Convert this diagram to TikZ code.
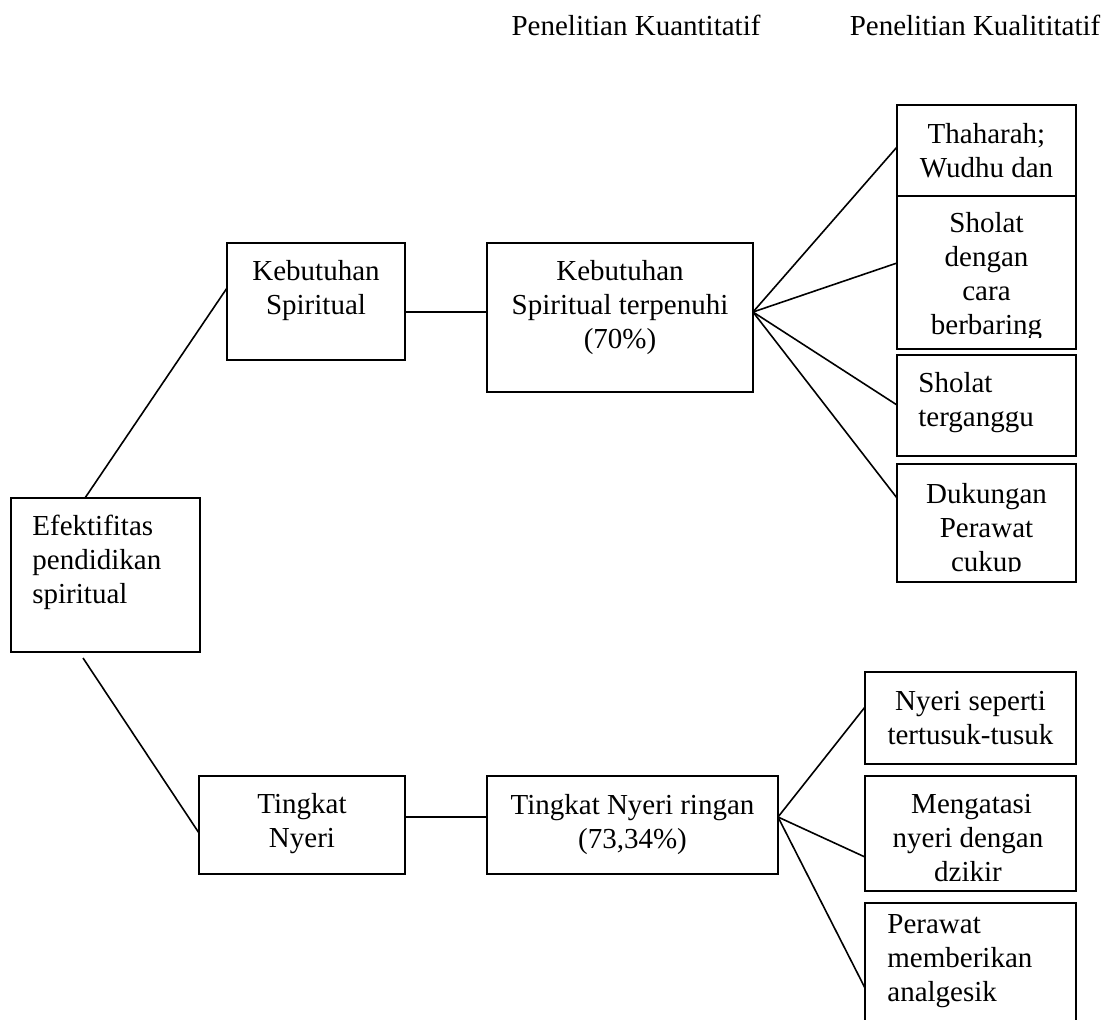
\documentclass[tikz,border=0pt]{standalone}
\usepackage{fontspec}
\setmainfont{Liberation Serif}
\usetikzlibrary{calc}
\begin{document}
\begin{tikzpicture}[x=0.5pt,y=-0.5pt,
  box/.style={draw, line width=1pt, fill=white, anchor=north west, inner sep=0pt, outer sep=0pt},
  link/.style={draw, line width=0.8pt},
  txt/.style={font=\fontsize{14.5}{17}\selectfont, inner sep=0pt, align=center, anchor=north},
  ltxt/.style={font=\fontsize{14.5}{17}\selectfont, inner sep=0pt, align=left, anchor=north west}]
\useasboundingbox (0,0) rectangle (1114,1019);

% header
\node[txt, anchor=base] (h1) at (636,35) {Penelitian Kuantitatif};
\node[txt, anchor=base] (h2) at (975,35) {Penelitian Kualititatif};

% boxes
\node[box, minimum width=94.5pt, minimum height=77pt] (efek) at (11,498) {};
\node[box, minimum width=89pt, minimum height=58.5pt] (ks) at (227,243) {};
\node[box, minimum width=133pt, minimum height=74.5pt] (kst) at (487,243) {};
\node[box, minimum width=103pt, minimum height=49pt] (tn) at (199,776) {};
\node[box, minimum width=145.5pt, minimum height=49pt] (tnr) at (487,776) {};
\node[box, minimum width=89.5pt, minimum height=67.5pt] (thah) at (897,105) {};
\node[txt] (tthah) at (986.5,119.2) {\strut Thaharah;\\Wudhu dan};
\node[box, minimum width=89.5pt, minimum height=76.5pt] (sh1) at (897,196) {};
\node[box, minimum width=89.5pt, minimum height=50.5pt] (sh2) at (897,355) {};
\node[box, minimum width=89.5pt, minimum height=59pt] (duk) at (897,464) {};
\node[box, minimum width=105.5pt, minimum height=46pt] (ny) at (865,672) {};
\node[box, minimum width=105.5pt, minimum height=57.5pt] (meng) at (865,776) {};
\node[box, minimum width=105.5pt, minimum height=70pt] (per) at (865,903) {};

% connectors
\draw[link] ([xshift=37pt]efek.north west) -- ([yshift=-22.5pt]ks.north west);
\draw[link] ([xshift=36pt,yshift=-3pt]efek.south west) -- ([yshift=-28.5pt]tn.north west);
\draw[link] ([yshift=-34.5pt]ks.north east) -- ([yshift=-34.5pt]kst.north west);
\draw[link] ([yshift=-20.5pt]tn.north east) -- ([yshift=-20.5pt]tnr.north west);
\coordinate (f1) at ([yshift=-34.5pt]kst.north east);
\foreach \b/\s in {thah/-21pt, sh1/-33.5pt, sh2/-25pt, duk/-17pt}
  \draw[link] (f1) -- ([yshift=\s]\b.north west);
\coordinate (f2) at ([yshift=-20.5pt]tnr.north east);
\foreach \b/\s in {ny/-17.5pt, meng/-40.5pt, per/-42.5pt}
  \draw[link] (f2) -- ([yshift=\s]\b.north west);

% texts
\node[ltxt] (tefek) at (32,511.2) {\strut Efektifitas\\pendidikan\\spiritual};
\node[txt] (tks) at (316,256.2) {\strut Kebutuhan\\Spiritual};
\node[txt] (tkst) at (620,256.2) {\strut Kebutuhan\\Spiritual terpenuhi\\(70\%)};
\node[txt] (ttn) at (302,789.2) {\strut Tingkat\\Nyeri};
\node[txt] (ttnr) at (632.5,790.2) {\strut Tingkat Nyeri ringan\\(73,34\%)};
\begin{scope}
  \clip (sh1.north west) rectangle ([yshift=6pt]sh1.south east);
  \node[txt] (tsh1) at (986.5,208.2) {\strut Sholat\\dengan\\cara\\berbaring};
\end{scope}
\node[ltxt] (tsh2) at (918,368.2) {\strut Sholat\\terganggu};
\begin{scope}
  \clip (duk.north west) rectangle ([yshift=5.5pt]duk.south east);
  \node[txt] (tduk) at (986.5,479.2) {\strut Dukungan\\Perawat\\cukup};
\end{scope}
\node[txt] (tny) at (970.5,686.2) {\strut Nyeri seperti\\tertusuk-tusuk};
\node[txt] (tmeng) at (968,789.2) {\strut\hspace*{0.25em}Mengatasi\\nyeri dengan\\dzikir};
\node[ltxt] (tper) at (887,909.2) {\strut Perawat\\memberikan\\analgesik};
\end{tikzpicture}
\end{document}
